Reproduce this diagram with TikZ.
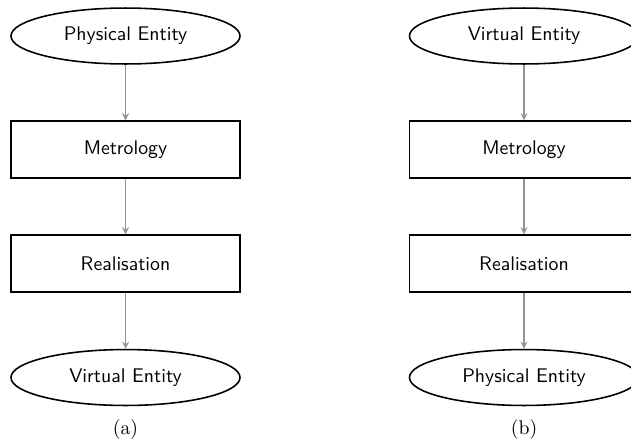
\documentclass[tikz,border=0pt]{standalone}
\usepackage{tikz}
\usetikzlibrary{arrows,shapes.geometric}

\begin{document}
\begin{tikzpicture}[x=0.506pt,y=-0.506pt,
      flow/.style={->,>=stealth,draw=gray!85,fill=gray!85,semithick},
      entity/.style={ellipse,draw,thick,minimum width=115.9pt,minimum height=28.3pt,
        inner sep=0pt,font=\sffamily},
      stage/.style={rectangle,draw,thick,minimum width=115.9pt,minimum height=28.8pt,
        inner sep=0pt,font=\sffamily}]
      \clip (0,0) rectangle (631,443);

      \node[entity] (PE) at (125.5,  36) { Physical Entity };
      \node[stage]  (M)  at (125.5, 149.5) { Metrology };
      \node[stage]  (R)  at (125.5, 263.5) { Realisation };
      \node[entity] (VE) at (125.5, 377.5) { Virtual Entity };
      \node (a) at (125.5, 430) { (a) };

      \path[flow]
      (PE) edge (M)
      (M) edge (R)
      (R) edge (VE)
      ;

      \node[entity] (VE') at (524,  36) { Virtual Entity };
      \node[stage]  (M')  at (524, 149.5) { Metrology };
      \node[stage]  (R')  at (524, 263.5) { Realisation };
      \node[entity] (PE') at (524, 377.5) { Physical Entity };
      \node (b) at (524, 430) { (b) };

      \path[flow]
      (VE') edge (M')
      (M') edge (R')
      (R') edge (PE')
      ;
\end{tikzpicture}
\end{document}
